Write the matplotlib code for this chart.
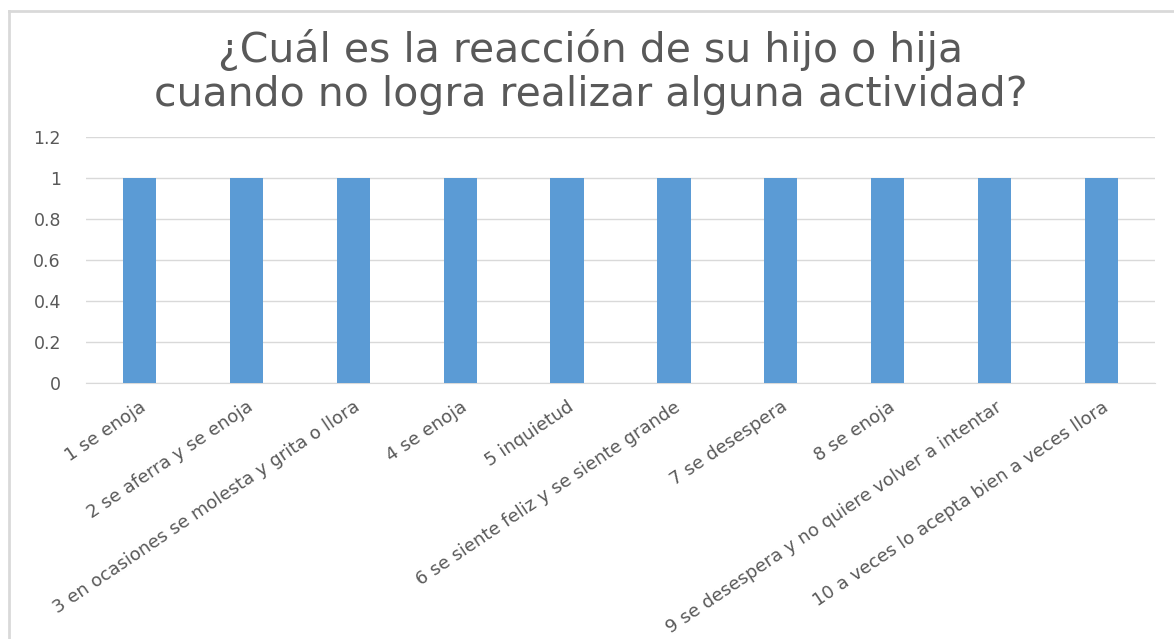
import matplotlib.pyplot as plt
import matplotlib.transforms as mtransforms
from matplotlib.lines import Line2D
import numpy as np

plt.rcParams['font.family'] = ['DejaVu Sans']

categories = ['1 se enoja', '2 se aferra y se enoja', '3 en ocasiones se molesta y grita o llora',
              '4 se enoja', '5 inquietud', '6 se siente feliz y se siente grande',
              '7 se desespera', '8 se enoja', '9 se desespera y no quiere volver a intentar',
              '10 a veces lo acepta bien a veces llora']
values = [1, 1, 1, 1, 1, 1, 1, 1, 1, 1]
y_ticks = [0, 0.2, 0.4, 0.6, 0.8, 1, 1.2]
y_labels = ['0', '0.2', '0.4', '0.6', '0.8', '1', '1.2']

fig = plt.figure(figsize=(11.74, 6.39), dpi=100)
# chart frame (only top and left edges visible in the crop)
bx, by = 8.5 / 1174, 1 - 11 / 639
fig.add_artist(Line2D([bx, 1], [by, by], transform=fig.transFigure, color='#D9D9D9', lw=2))
fig.add_artist(Line2D([bx, bx], [0, by], transform=fig.transFigure, color='#D9D9D9', lw=2))

ax = fig.add_axes([86 / 1174, 1 - 383 / 639, (1155 - 86) / 1174, (383 - 137) / 639])
x = np.arange(len(categories))
ax.bar(x, values, width=0.31, color='#5B9BD5', zorder=3)

ax.set_xlim(-0.5, len(categories) - 0.5)
ax.set_ylim(0, 1.2)
ax.set_yticks(y_ticks)
ax.set_yticklabels(y_labels)
ax.grid(axis='y', color='#D9D9D9', linewidth=1, zorder=0)
for s in ['top', 'right', 'left']:
    ax.spines[s].set_visible(False)
ax.spines['bottom'].set_color('#D9D9D9')
ax.tick_params(axis='both', length=0, colors='#595959', labelsize=12.5)
ax.tick_params(axis='y', pad=18)

ax.set_xticks(x)
ax.set_xticklabels(categories, rotation=34, ha='right', va='top',
                   rotation_mode='anchor', color='#595959', fontsize=13)
offset = mtransforms.ScaledTranslation(0.0, -0.1, fig.dpi_scale_trans)
for lbl in ax.get_xticklabels():
    lbl.set_transform(lbl.get_transform() + offset)

fig.text(0.503, 1 - 72 / 639, '¿Cuál es la reacción de su hijo o hija\ncuando no logra realizar alguna actividad?',
         ha='center', va='center', fontsize=29.5, color='#595959', linespacing=1.1)

fig.savefig('out.png', dpi=100)
